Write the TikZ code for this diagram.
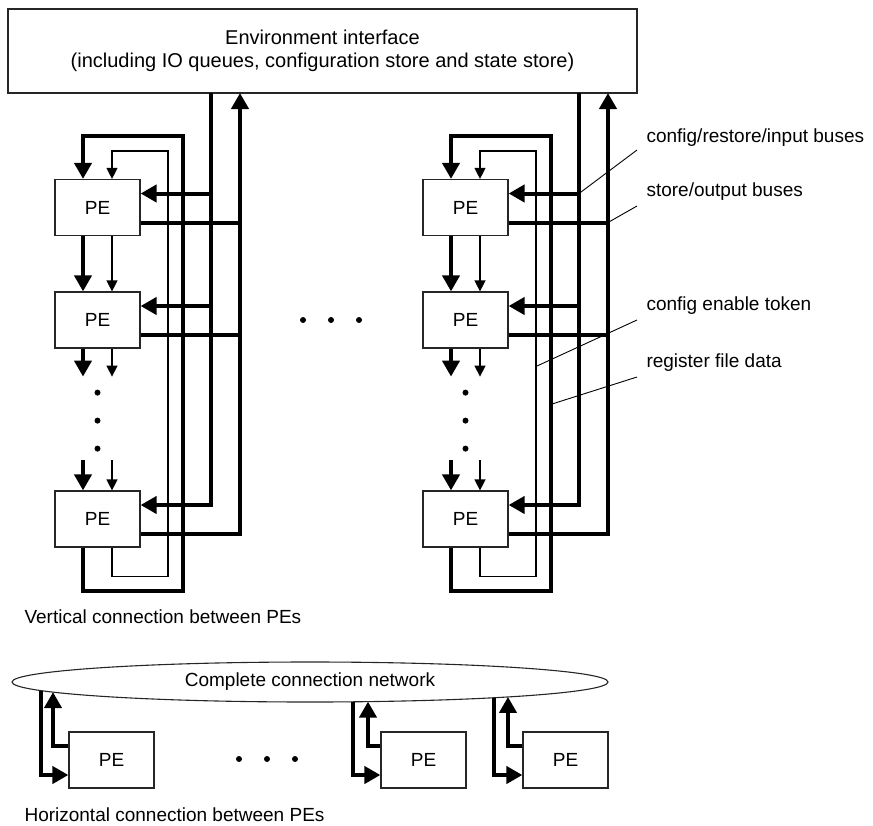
\documentclass[tikz,border=0pt]{standalone}
\usepackage{fontspec}
\setmainfont{Liberation Sans}
\usetikzlibrary{arrows.meta,shapes.geometric,calc}

\tikzset{
  lbl/.style={font=\fontsize{19}{23}\selectfont},
  pe/.style={draw=black!85, line width=1.2pt, fill=white, minimum width=85pt,
             minimum height=56pt, inner sep=0pt, lbl},
  thickw/.style={line width=4pt},
  thinw/.style={line width=1.3pt},
  bigtip/.style={-{Triangle[length=16pt,width=17pt]}},
  smalltip/.style={-{Triangle[length=11pt,width=11pt]}},
  leader/.style={line width=0.9pt},
  dot/.style={fill=black},
}

\begin{document}
\begin{tikzpicture}[x=1pt,y=-1pt]
\useasboundingbox (0,0) rectangle (873,825);

% environment interface
\node[draw=black!85, line width=1.2pt, minimum width=629pt, minimum height=84pt,
      inner sep=0pt, align=center, font=\fontsize{20}{23.5}\selectfont] (env) at (322.5,51)
  {Environment interface\\(including IO queues, configuration store and state store)};

% two columns of vertically chained PEs
\foreach \c/\dx in {L/0, R/368} {
  \node[pe] (pe\c1) at (97.5+\dx,207.5) {PE};
  \node[pe] (pe\c2) at (97.5+\dx,320) {PE};
  \node[pe] (pe\c3) at (97.5+\dx,519) {PE};

  \foreach \i in {1,2,3} {
    \coordinate (in\c\i) at ([yshift=14pt]pe\c\i.east);
    \coordinate (out\c\i) at ([yshift=-15pt]pe\c\i.east);
  }
  \coordinate (bd\c) at (211+\dx,93);
  \coordinate (bu\c) at (240+\dx,93);

  % config/restore/input bus
  \draw[thickw,bigtip] (bd\c) |- (in\c3);
  \draw[thickw,bigtip] (in\c1 -| bd\c) -- (in\c1);
  \draw[thickw,bigtip] (in\c2 -| bd\c) -- (in\c2);
  % store/output bus
  \draw[thickw,bigtip] (out\c3) -| (bu\c);
  \draw[thickw] (out\c1) -- (out\c1 -| bu\c);
  \draw[thickw] (out\c2) -- (out\c2 -| bu\c);

  % PE to PE links
  \draw[thickw,bigtip] ([xshift=-14.5pt]pe\c1.south) -- ([xshift=-14.5pt]pe\c2.north);
  \draw[thinw,smalltip] ([xshift=14.5pt]pe\c1.south) -- ([xshift=14.5pt]pe\c2.north);
  \draw[thickw,bigtip] ([xshift=-14.5pt]pe\c2.south) -- ++(0,28);
  \draw[thinw,smalltip] ([xshift=14.5pt]pe\c2.south) -- ++(0,28);
  \draw[thickw,bigtip] ([xshift=-14.5pt,yshift=30pt]pe\c3.north) -- ([xshift=-14.5pt]pe\c3.north);
  \draw[thinw,smalltip] ([xshift=14.5pt,yshift=30pt]pe\c3.north) -- ([xshift=14.5pt]pe\c3.north);

  % vertical ellipsis
  \fill[dot] ([yshift=-44pt]pe\c2.south) circle[radius=3pt];
  \fill[dot] ([yshift=-72pt]pe\c2.south) circle[radius=3pt];
  \fill[dot] ([yshift=-100pt]pe\c2.south) circle[radius=3pt];

  % wrap-around loops: config enable token and register file data
  \draw[thinw,smalltip] ([xshift=14.5pt]pe\c3.south) -- ++(0,29)
        -| (168+\dx,151) -| ([xshift=14.5pt]pe\c1.north);
  \draw[thickw,bigtip] ([xshift=-14.5pt]pe\c3.south) -- ++(0,43)
        -| (183+\dx,136) -| ([xshift=-14.5pt]pe\c1.north);
}

% horizontal ellipsis between the columns
\fill[dot] (303,320) circle[radius=3pt];
\fill[dot] (331,320) circle[radius=3pt];
\fill[dot] (359,320) circle[radius=3pt];

% bus labels with leader lines
\node[lbl, anchor=west] (t1) at (643,138) {config/restore/input buses};
\node[lbl, anchor=west] (t2) at (643,192) {store/output buses};
\node[lbl, anchor=west] (t3) at (643,306) {config enable token};
\node[lbl, anchor=west] (t4) at (643,363) {register file data};
\coordinate (k1) at (637,150);
\coordinate (k2) at (637,206);
\coordinate (k3) at (637,320);
\coordinate (k4) at (637,377);
\draw[leader] (inR1 -| bdR) -- (k1);
\draw[leader] (outR1 -| buR) -- (k2);
\coordinate (j3) at (537,366);
\coordinate (j4) at (552,404);
\draw[leader] (j3) -- (k3);
\draw[leader] (j4) -- (k4);

\node[lbl, anchor=west] (cap1) at (21,617) {Vertical connection between PEs};

% complete connection network
\node[draw=black!85, line width=1.1pt, ellipse, minimum width=596pt, minimum height=40pt,
      inner sep=0pt, lbl] (net) at (310,682) {Complete connection network};

\node[pe] (hA) at (111.5,760) {PE};
\node[pe] (hB) at (423.5,760) {PE};
\node[pe] (hC) at (565.5,760) {PE};

\coordinate (nA) at (41,690.6);
\coordinate (mA) at (53,692.1);
\coordinate (nB) at (353,701.8);
\coordinate (mB) at (368,701.6);
\coordinate (nC) at (494,697.7);
\coordinate (mC) at (508,696.9);

\foreach \p in {A,B,C} {
  \draw[thickw,bigtip] (n\p) |- ([yshift=-15pt]h\p.west);
  \draw[thickw,bigtip] ([yshift=14pt]h\p.west) -| (m\p);
}

\fill[dot] (239,759) circle[radius=3pt];
\fill[dot] (267,759) circle[radius=3pt];
\fill[dot] (295,759) circle[radius=3pt];

\node[lbl, anchor=west] (cap2) at (21,815) {Horizontal connection between PEs};
\end{tikzpicture}
\end{document}
